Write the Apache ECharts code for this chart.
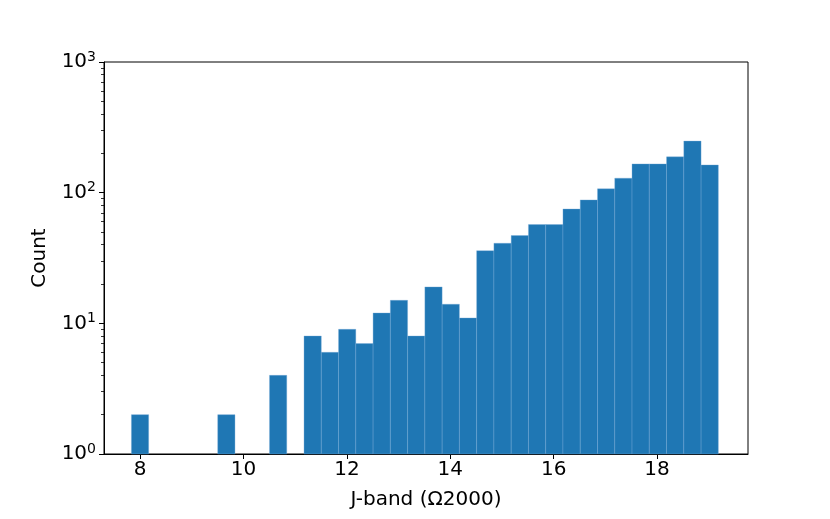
<!DOCTYPE html>
<html>
<head>
<meta charset="utf-8">
<script src="https://cdn.jsdelivr.net/npm/echarts@6/dist/echarts.min.js"></script>
<style>html,body{margin:0;padding:0;background:#fff;}#c{width:830px;height:519px;}</style>
</head>
<body>
<div id="c"></div>
<script>
// Histogram bins (J-band magnitude)
const binStart = 7.83;
const binWidth = 0.334;
const counts = [2,0,0,0,0,2,0,0,4,0,8,6,9,7,12,15,8,19,14,11,36,41,47,57,57,75,88,107,129,166,166,188,248,163];
const xTicks = [8,10,12,14,16,18];
const yMajorTicks = [1,10,100,1000];
const yMinorTicks = [2,3,4,5,6,7,8,9,20,30,40,50,60,70,80,90,200,300,400,500,600,700,800,900];
const xLabel = 'J-band (Ω2000)';
const yLabel = 'Count';

const bins = [];
counts.forEach((c, i) => {
  if (c > 0) bins.push([binStart + i * binWidth, binStart + (i + 1) * binWidth, c]);
});

const font = 'DejaVu Sans';
const chart = echarts.init(document.getElementById('c'));
chart.setOption({
  animation: false,
  grid: { left: 104, right: 82, top: 62, bottom: 65, show: true, borderColor: '#000', borderWidth: 1, backgroundColor: 'transparent' },
  xAxis: {
    type: 'value', min: 7.3, max: 19.76,
    name: xLabel, nameLocation: 'middle', nameGap: 36,
    nameTextStyle: { fontFamily: font, fontSize: 20, color: '#000' },
    axisLine: { show: true, onZero: false, lineStyle: { color: '#000', width: 1 } },
    axisTick: { show: true, length: 5, lineStyle: { color: '#000' }, customValues: xTicks },
    axisLabel: { fontFamily: font, fontSize: 20, color: '#000', margin: 6, customValues: xTicks },
    splitLine: { show: false }
  },
  yAxis: [{
    type: 'log', logBase: 10, min: 1, max: 1000,
    name: yLabel, nameLocation: 'middle', nameGap: 54,
    nameTextStyle: { fontFamily: font, fontSize: 20, color: '#000' },
    axisLine: { show: true, lineStyle: { color: '#000', width: 1 } },
    axisTick: { show: true, length: 5, lineStyle: { color: '#000' }, customValues: yMajorTicks },
    axisLabel: {
      customValues: yMajorTicks, margin: 8,
      formatter: v => '{b|10}{s|' + Math.round(Math.log10(v)) + '}',
      rich: {
        b: { fontFamily: font, fontSize: 20, color: '#000' },
        s: { fontFamily: font, fontSize: 14, color: '#000', padding: [0, 0, 10, 0] }
      }
    },
    splitLine: { show: false }
  }, {
    type: 'log', logBase: 10, min: 1, max: 1000, position: 'left',
    axisLine: { show: false },
    axisTick: { show: true, length: 3, lineStyle: { color: '#000', width: 0.8 }, customValues: yMinorTicks },
    axisLabel: { show: false },
    splitLine: { show: false }
  }],
  series: [{
    type: 'custom',
    data: bins,
    encode: { x: [0, 1], y: 2 },
    renderItem: function (params, api) {
      const p0 = api.coord([api.value(0), 1]);
      const p1 = api.coord([api.value(1), api.value(2)]);
      return {
        type: 'rect',
        shape: { x: p0[0], y: p1[1], width: p1[0] - p0[0], height: p0[1] - p1[1] },
        style: { fill: '#1f77b4', stroke: 'rgba(120,170,215,0.6)', lineWidth: 0.6 }
      };
    }
  }]
});
</script>
</body>
</html>
